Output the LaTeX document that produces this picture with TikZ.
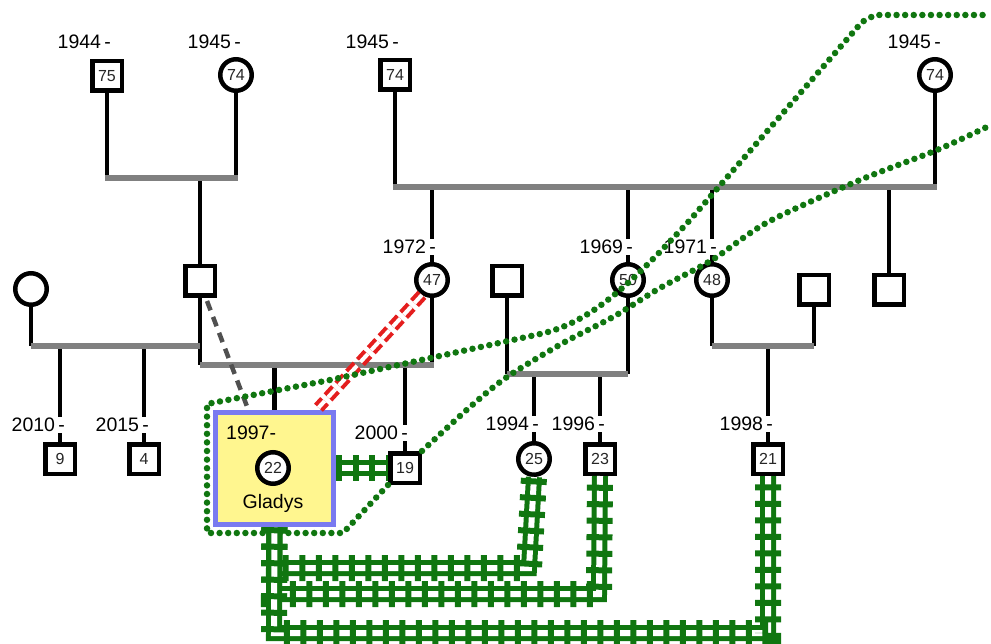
\documentclass[tikz,border=0pt]{standalone}
\usepackage{fontspec}
\setmainfont{Liberation Sans}
\usetikzlibrary{calc}
\definecolor{gyellow}{RGB}{255,246,143}
\definecolor{gblue}{RGB}{122,122,240}
\definecolor{ggreen}{RGB}{16,118,16}
\definecolor{gred}{RGB}{228,30,30}
\definecolor{gdash}{RGB}{80,80,80}
\definecolor{gline}{RGB}{128,128,128}
\tikzset{
  male/.style={draw=black, fill=white, line width=4.5pt, minimum size=29.5pt, inner sep=0pt, font=\fontsize{16pt}{16pt}\selectfont, text=black!85},
  female/.style={circle, draw=black, fill=white, line width=4.5pt, minimum size=31.5pt, inner sep=0pt, font=\fontsize{16pt}{16pt}\selectfont, text=black!85},
  ghost/.style={draw=none, fill=none},
  year/.style={anchor=east, fill=white, inner sep=1pt, font=\fontsize{19.5pt}{19.5pt}\selectfont, text=black},
  kid/.style={draw=black, line width=4.5pt},
  couple/.style={draw=gline, line width=5.5pt},
  graydash/.style={draw=gdash, line width=4.5pt, dash pattern=on 10pt off 7pt},
  reddash/.style={draw=gred, line width=4pt, double=white, double distance=4pt, dash pattern=on 11pt off 5pt},
  gdot/.style={draw=ggreen, line width=6.5pt, line cap=round, dash pattern=on 0pt off 8.6pt},
  railline/.style={draw=ggreen, line width=5pt, double=white, double distance=6pt},
  railticks/.style={draw=ggreen, line width=26pt, dash pattern=on 6pt off 10.5pt},
  boxstyle/.style={draw=gblue, fill=gyellow, line width=5.5pt, minimum width=118pt, minimum height=112pt, inner sep=0pt}
}
\newcommand\railpath[1]{\draw[railline] #1; \draw[railticks] #1;}
\begin{document}
\begin{tikzpicture}[x=1pt,y=-1pt]
\useasboundingbox (0,0) rectangle (991,644);
% couple coordinates
\coordinate (c1L) at (105,178); \coordinate (c1R) at (238,178);
\coordinate (c2L) at (393,187); \coordinate (c2R) at (937,187);
\coordinate (c3L) at (31,346);  \coordinate (c3R) at (200,346);
\coordinate (c4L) at (200,365); \coordinate (c4R) at (434,365);
\coordinate (c5L) at (507,374); \coordinate (c5R) at (628,374);
\coordinate (c6L) at (712,346); \coordinate (c6R) at (814,346);
\coordinate (offA) at (991,15);
\coordinate (offB) at (991,125);
% people (named placeholders, drawn later on top of the lines)
\node[male, ghost] (p75) at (107,76) {};
\node[female, ghost] (p74a) at (236,75) {};
\node[male, ghost] (p74b) at (395,75) {};
\node[female, ghost] (p74c) at (935,75) {};
\node[female, ghost] (pl) at (31,289) {};
\node[male, ghost] (father) at (200,281) {};
\node[female, ghost] (p47) at (432,280) {};
\node[male, ghost] (sqx) at (507,281) {};
\node[female, ghost] (p50) at (628,280) {};
\node[female, ghost] (p48) at (712,280) {};
\node[male, ghost] (sqy) at (814,290) {};
\node[male, ghost] (sqz) at (889,290) {};
\node[male, ghost] (p9) at (60,459) {};
\node[male, ghost] (p4) at (144,459) {};
\node[boxstyle, ghost] (gbox) at (274.5,468.5) {};
\node[male, ghost] (sq19) at (405,468) {};
\node[female, ghost] (p25) at (534,459) {};
\node[male, ghost] (p23) at (600,459) {};
\node[male, ghost] (p21) at (768,459) {};
% kid / parent lines
\draw[kid] (p75.south) -- (p75.south |- c1L);
\draw[kid] (p74a.south) -- (p74a.south |- c1L);
\draw[kid] (father.north) -- (father.north |- c1L);
\draw[kid] (p74b.south) -- (p74b.south |- c2L);
\draw[kid] (p74c.south) -- (p74c.south |- c2L);
\draw[kid] (p47.north) -- (p47.north |- c2L);
\draw[kid] (p50.north) -- (p50.north |- c2L);
\draw[kid] (p48.north) -- (p48.north |- c2L);
\draw[kid] (sqz.north) -- (sqz.north |- c2L);
\draw[kid] (pl.south) -- (pl.south |- c3L);
\draw[kid] (father.south) -- (father.south |- c4L);
\draw[kid] (p9.north) -- (p9.north |- c3L);
\draw[kid] (p4.north) -- (p4.north |- c3L);
\draw[kid] (p47.south) -- (p47.south |- c4L);
\draw[kid] (gbox.north) -- (gbox.north |- c4L);
\draw[kid] (sq19.north) -- (sq19.north |- c4L);
\draw[kid] (sqx.south) -- (sqx.south |- c5L);
\draw[kid] (p50.south) -- (p50.south |- c5L);
\draw[kid] (p25.north) -- (p25.north |- c5L);
\draw[kid] (p23.north) -- (p23.north |- c5L);
\draw[kid] (p48.south) -- (p48.south |- c6L);
\draw[kid] (sqy.south) -- (sqy.south |- c6L);
\draw[kid] (p21.north) -- (p21.north |- c6L);
% couple lines
\draw[couple] (c1L) -- (c1R);
\draw[couple] (c2L) -- (c2R);
\draw[couple] (c3L) -- (c3R);
\draw[couple] (c4L) -- (c4R);
\draw[couple] (c5L) -- (c5R);
\draw[couple] (c6L) -- (c6R);
% visible symbols
\node[male] at (p75) {75};
\node[female] at (p74a) {74};
\node[male] at (p74b) {74};
\node[female] at (p74c) {74};
\node[female] at (pl) {};
\node[male] at (father) {};
\node[female] at (p47) {47};
\node[male] at (sqx) {};
\node[female] at (p50) {50};
\node[female] at (p48) {48};
\node[male] at (sqy) {};
\node[male] at (sqz) {};
\node[male] at (p9) {9};
\node[male] at (p4) {4};
\node[boxstyle] at (gbox) {};
\node[female] (gladys) at (273,468) {22};
\node[male] at (sq19) {19};
\node[female] at (p25) {25};
\node[male] at (p23) {23};
\node[male] at (p21) {21};
% year labels
\node[year] (y75) at (112,42) {1944\,-};
\node[year] (y74a) at (242,42) {1945\,-};
\node[year] (y74b) at (400,42) {1945\,-};
\node[year] (y74c) at (942,42) {1945\,-};
\node[year] (y47) at (437,247) {1972\,-};
\node[year] (y50) at (634,247) {1969\,-};
\node[year] (y48) at (718,247) {1971\,-};
\node[year] (y9) at (66,425) {2010\,-};
\node[year] (y4) at (150,425) {2015\,-};
\node[year] (y19) at (409,433) {2000\,-};
\node[year] (y25) at (540,424) {1994\,-};
\node[year] (y23) at (606,424) {1996\,-};
\node[year] (y21) at (774,424) {1998\,-};
\node[year, anchor=west, fill=none] (y22) at (225,433) {1997-};
\node[font=\fontsize{19.5pt}{19.5pt}\selectfont, text=black] (gname) at (273,503) {Gladys};
% relationship lines
\draw[graydash] ($(father.south)+(7,3)$) -- ($(gbox.north)+(-27,-2)$);
\draw[reddash] (p47.236) -- ($(gbox.north)+(44,-2)$);
\draw[gdot] (sq19.south west) -- (343,533) -- (207,533) -- (207,404) -- (330,380) -- (540,334) .. controls (590,323) and (630,285) .. (690,220) -- (862,22) -- (875,15) -- (offA);
\draw[gdot] plot[smooth, tension=0.5] coordinates {(sq19.north east) (470,407) (507,377) (563,343) (613,317) (660,288) (712,260) (768,222) (860,180) (937,150) (offB)};
% railroads
\railpath{(gbox.east |- sq19.west) -- (sq19.west)}
\railpath{(gbox.south) -- (274,568) -- (529,568) -- (p25.south)}
\railpath{(gbox.south) -- (274,594) -- (599,594) -- (p23.south)}
\railpath{(gbox.south) -- (274,633) -- (768,633) -- (p21.south)}
\end{tikzpicture}
\end{document}
